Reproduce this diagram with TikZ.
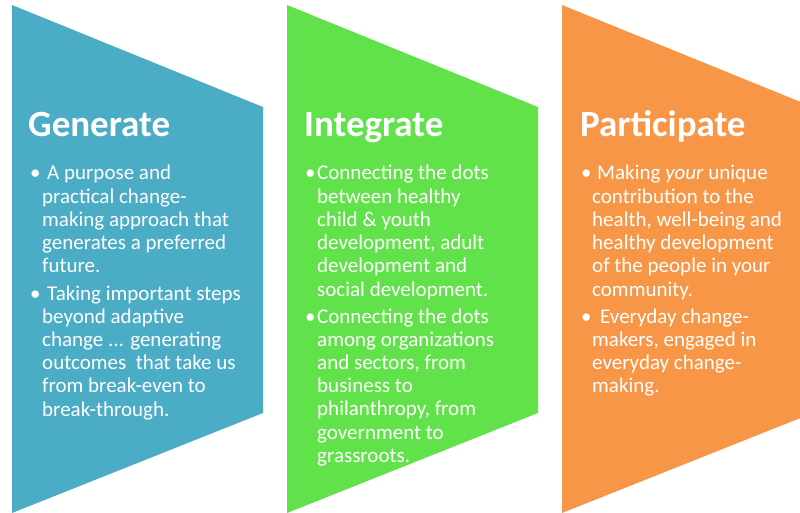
\documentclass[tikz,border=0pt]{standalone}
\usepackage{fontspec}
\setmainfont{Carlito}
\definecolor{gblue}{HTML}{4BACC6}
\definecolor{igreen}{HTML}{62E24A}
\definecolor{porange}{HTML}{F79646}
\newcommand{\bodyfont}{\fontsize{21}{23.2}\selectfont}
\begin{document}
\begin{tikzpicture}[x=1pt,y=-1pt,
  head/.style={anchor=base west, inner sep=0pt, text=white, font={\fontsize{37}{40}\selectfont\bfseries}},
  bul/.style={anchor=base west, inner sep=0pt, text=white, font={\bodyfont}},
  para/.style={anchor=base west, inner sep=0pt, text=white, font={\bodyfont}}]
\useasboundingbox (0,0) rectangle (800,513);
\clip (0,0) rectangle (800,513);
% chevrons
\fill[gblue] (12,5) -- (263,107) -- (263,413) -- (12,513) -- cycle;
\fill[igreen] (287,5) -- (538,107) -- (538,413) -- (287,513) -- cycle;
\fill[porange] (562,5) -- (813,107) -- (813,413) -- (562,513) -- cycle;
% Generate
\node[head] (gh) at (28,137) {Generate};
\node[bul] (gb1) at (30,180) {•};
\node[para] (gp1) at (42,180) {\parbox[t]{240pt}{\bodyfont\raggedright
\hspace*{5pt}A purpose and\\practical change-\\making approach that\\generates a preferred\\future.}};
\node[bul] (gb2) at (30,300) {•};
\node[para] (gp2) at (42,300) {\parbox[t]{240pt}{\bodyfont\raggedright
\hspace*{5pt}Taking important steps\\beyond adaptive\\change ... generating\\outcomes\ \ that take us\\from break-even to\\break-through.}};
% Integrate
\node[head] (ih) at (304,137) {Integrate};
\node[bul] (ib1) at (305,180) {•};
\node[para] (ip1) at (317,180) {\parbox[t]{240pt}{\bodyfont\raggedright
Connecting the dots\\between healthy\\child \& youth\\development, adult\\development and\\social development.}};
\node[bul] (ib2) at (305,323) {•};
\node[para] (ip2) at (317,323) {\parbox[t]{240pt}{\bodyfont\raggedright
Connecting the dots\\among organizations\\and sectors, from\\business to\\philanthropy, from\\government to\\grassroots.}};
% Participate
\node[head] (ph) at (580,137) {Participate};
\node[bul] (pb1) at (581,180) {•};
\node[para] (pp1) at (592,180) {\parbox[t]{240pt}{\bodyfont\raggedright
\hspace*{5pt}Making \textit{your} unique\\contribution to the\\health, well-being and\\healthy development\\of the people in your\\community.}};
\node[bul] (pb2) at (581,323) {•};
\node[para] (pp2) at (592,323) {\parbox[t]{240pt}{\bodyfont\raggedright
\hspace*{8pt}Everyday change-\\makers, engaged in\\everyday change-\\making.}};
\end{tikzpicture}
\end{document}
